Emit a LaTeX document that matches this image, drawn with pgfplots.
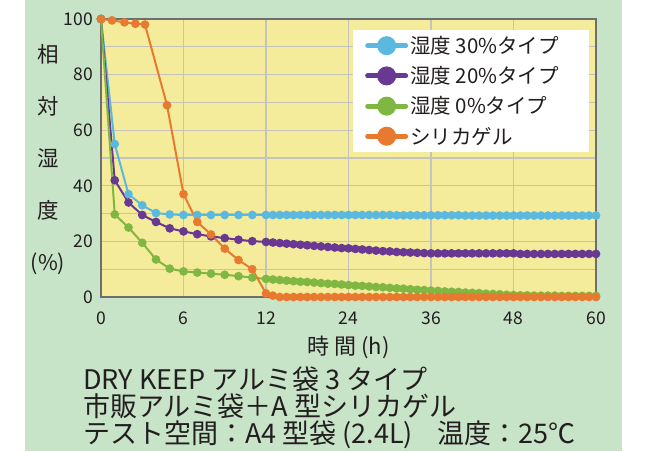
\documentclass[border=0pt]{standalone}
\usepackage{pgfplots}
\pgfplotsset{compat=1.18}
\usepackage{fontspec}
\setmainfont{Noto Sans CJK JP}
\definecolor{bgGreen}{RGB}{199,227,200}
\definecolor{bgYellow}{RGB}{245,236,155}
\definecolor{gridc}{RGB}{196,196,188}
\definecolor{framec}{RGB}{110,110,110}
\definecolor{cBlue}{RGB}{91,185,224}
\definecolor{cPurple}{RGB}{104,56,146}
\definecolor{cGreen}{RGB}{128,183,66}
\definecolor{cOrange}{RGB}{232,122,48}
\definecolor{txt}{RGB}{35,30,30}
\begin{document}
\begin{tikzpicture}
\useasboundingbox (0pt,0pt) rectangle (650pt,-451pt);
\fill[white] (0pt,0pt) rectangle (650pt,-451pt);
\fill[bgGreen] (25pt,0pt) rectangle (622pt,-451pt);
\begin{axis}[
  at={(101pt,-297pt)}, anchor=south west,
  scale only axis, width=495pt, height=278pt,
  clip=false,
  axis background/.style={fill=bgYellow},
  axis line style={framec, line width=1.6pt},
  x coord trafo/.code={\pgfmathparse{(#1<=12)*(#1)+(#1>12)*(12+(#1-12)/2)}},
  x coord inv trafo/.code={\pgfmathparse{(#1<=12)*(#1)+(#1>12)*(12+2*(#1-12))}},
  xmin=0, xmax=60, ymin=0, ymax=100,
  xtick={0,6,12,24,36,48,60},
  ytick={0,20,40,60,80,100},
  minor ytick={10,30,50,70,90},
  xmajorgrids=true, ymajorgrids=true, yminorgrids=true,
  major grid style={gridc, line width=1.2pt},
  minor grid style={gridc, line width=1.2pt},
  major tick length=0pt, minor tick length=0pt,
  /pgf/number format/assume math mode=true,
  tick label style={font=\fontsize{17.5}{17.5}\selectfont, color=txt, inner sep=0pt},
  xticklabel shift=15pt,
  yticklabel shift=8pt,
  xlabel={時 間 (h)},
  xlabel style={at={(axis description cs:0.5,-0.183)}, anchor=center, font=\fontsize{22}{22}\selectfont, color=txt},
  ylabel={相\\対\\湿\\度\\(\%)},
  ylabel style={at={(axis description cs:-0.107,0.493)}, anchor=center, rotate=-90, align=center, font=\fontsize{21.5}{52}\selectfont, color=txt},
  legend style={at={(axis description cs:0.509,0.96)}, anchor=north west, draw=none, fill=white,
    font=\fontsize{20.5}{20.5}\selectfont, text=txt, row sep=7.5pt, inner xsep=12pt, inner ysep=4pt,
    cells={anchor=west}},
  legend image code/.code={
    \draw[#1, line width=5pt, line cap=round, mark=none] (0pt,0pt) -- (38pt,0pt);
    \fill[#1] (19pt,0pt) circle (8.5pt);
  },
  every axis plot/.append style={line width=2pt, mark=*, mark size=3.3pt},
]
\addplot[color=cBlue, mark options={fill=cBlue, draw=none}] coordinates {
(0,100)(1,55)(2,37)(3,33)(4,30.2)(5,29.7)(6,29.5)(7,29.5)(8,29.5)(9,29.5)(10,29.5)
(11,29.5)(12,29.5)(13,29.5)(14,29.5)(15,29.5)(16,29.5)(17,29.5)(18,29.5)(19,29.5)(20,29.5)
(21,29.5)(22,29.5)(23,29.5)(24,29.5)(25,29.5)(26,29.5)(27,29.5)(28,29.5)(29,29.5)(30,29.5)
(31,29.4)(32,29.4)(33,29.4)(34,29.4)(35,29.4)(36,29.4)(37,29.4)(38,29.4)(39,29.4)(40,29.4)
(41,29.3)(42,29.3)(43,29.3)(44,29.3)(45,29.3)(46,29.3)(47,29.3)(48,29.3)(49,29.3)(50,29.3)
(51,29.3)(52,29.3)(53,29.3)(54,29.3)(55,29.3)(56,29.3)(57,29.3)(58,29.3)(59,29.3)(60,29.3)
};
\addlegendentry{湿度 30\%タイプ\hspace*{16pt}}
\addplot[color=cPurple, mark options={fill=cPurple, draw=none}] coordinates {
(0,100)(1,42)(2,34)(3,29.5)(4,27)(5,24.7)(6,23.6)(7,22.6)(8,21.8)(9,21.2)(10,20.6)
(11,20.1)(12,19.8)(13,19.6)(14,19.4)(15,19.2)(16,19.0)(17,18.8)(18,18.6)(19,18.4)(20,18.2)
(21,18.0)(22,17.8)(23,17.6)(24,17.5)(25,17.3)(26,17.1)(27,16.9)(28,16.7)(29,16.5)(30,16.4)
(31,16.2)(32,16.1)(33,16.0)(34,15.9)(35,15.8)(36,15.7)(37,15.7)(38,15.7)(39,15.7)(40,15.7)
(41,15.7)(42,15.7)(43,15.7)(44,15.7)(45,15.7)(46,15.7)(47,15.7)(48,15.7)(49,15.5)(50,15.5)
(51,15.5)(52,15.5)(53,15.5)(54,15.5)(55,15.5)(56,15.5)(57,15.5)(58,15.5)(59,15.5)(60,15.5)
};
\addlegendentry{湿度 20\%タイプ}
\addplot[color=cGreen, mark options={fill=cGreen, draw=none}] coordinates {
(0,100)(1,29.7)(2,25)(3,19.5)(4,13.5)(5,10.2)(6,9.2)(7,8.8)(8,8.4)(9,8.0)(10,7.5)
(11,7.0)(12,6.5)(13,6.3)(14,6.1)(15,5.9)(16,5.7)(17,5.5)(18,5.4)(19,5.2)(20,5.0)
(21,4.8)(22,4.7)(23,4.5)(24,4.3)(25,4.1)(26,4.0)(27,3.8)(28,3.6)(29,3.5)(30,3.3)
(31,3.1)(32,3.0)(33,2.8)(34,2.6)(35,2.5)(36,2.3)(37,2.2)(38,2.0)(39,1.9)(40,1.8)
(41,1.6)(42,1.5)(43,1.4)(44,1.2)(45,1.1)(46,1.0)(47,0.8)(48,0.7)(49,0.6)(50,0.6)
(51,0.5)(52,0.5)(53,0.5)(54,0.5)(55,0.4)(56,0.4)(57,0.4)(58,0.4)(59,0.4)(60,0.4)
};
\addlegendentry{湿度 0\%タイプ}
\addplot[color=cOrange, mark options={fill=cOrange, draw=none}] coordinates {
(0,100)(0.8,99.5)(1.7,98.8)(2.5,98.3)(3.2,98)(4.8,69)(6,37)(7,27)(8,22.5)(9,17.4)(10,13.3)
(11,10)(12,1.3)(13,0.5)(14,0)(15,0)(16,0)(17,0)(18,0)(19,0)(20,0)
(21,0)(22,0)(23,0)(24,0)(25,0)(26,0)(27,0)(28,0)(29,0)(30,0)
(31,0)(32,0)(33,0)(34,0)(35,0)(36,0)(37,0)(38,0)(39,0)(40,0)
(41,0)(42,0)(43,0)(44,0)(45,0)(46,0)(47,0)(48,0)(49,0)(50,0)
(51,0)(52,0)(53,0)(54,0)(55,0)(56,0)(57,0)(58,0)(59,0)(60,0)
};
\addlegendentry{シリカゲル}
\end{axis}
\begin{scope}[every node/.style={anchor=base west, inner sep=0pt, text=txt, font=\fontsize{27}{27}\selectfont}]
\node at (83pt,-389pt) {DRY KEEP アルミ袋 3 タイプ};
\node at (83pt,-416pt) {市販アルミ袋＋A 型シリカゲル};
\node at (83pt,-443pt) {テスト空間：A4 型袋 (2.4L)\hspace{0.9em}温度：25℃};
\end{scope}
\end{tikzpicture}
\end{document}
